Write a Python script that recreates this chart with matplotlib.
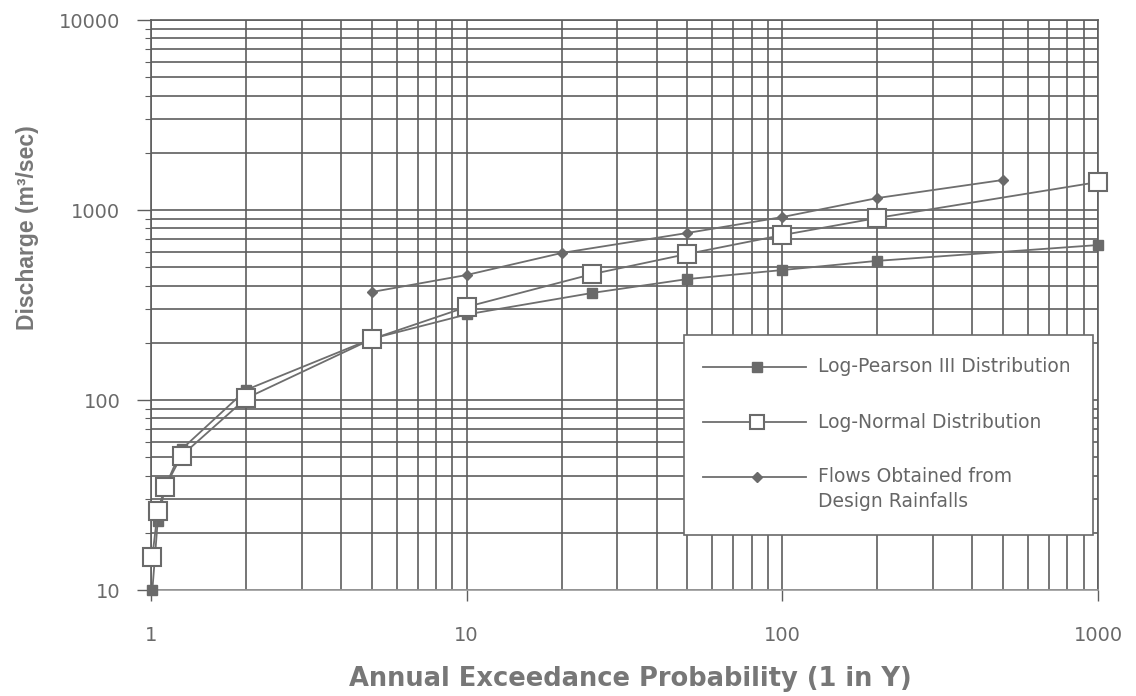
import matplotlib
matplotlib.use("Agg")
import matplotlib.pyplot as plt
from matplotlib.ticker import LogLocator, FixedLocator, NullFormatter, FixedFormatter
from matplotlib.lines import Line2D
from matplotlib.patches import Rectangle

plt.rcParams['font.family'] = ['DejaVu Sans']

# ---- data ----
lp3_x = [1.01, 1.05, 1.11, 1.25, 2, 5, 10, 25, 50, 100, 200, 1000]
lp3_y = [10, 23, 35, 55, 113, 210, 282, 366, 433, 483, 540, 654]

ln_x = [1.01, 1.05, 1.11, 1.25, 2, 5, 10, 25, 50, 100, 200, 1000]
ln_y = [15, 26, 35, 51, 102, 209, 309, 460, 587, 738, 908, 1403]

fl_x = [5, 10, 20, 50, 100, 200, 500]
fl_y = [370, 455, 594, 757, 918, 1156, 1439]

series_labels = ["Log-Pearson III Distribution", "Log-Normal Distribution",
                 "Flows Obtained from\nDesign Rainfalls"]
x_ticks = [1, 10, 100, 1000]
x_ticklabels = ["1", "10", "100", "1000"]
y_ticks = [10, 100, 1000, 10000]
y_ticklabels = ["10", "100", "1000", "10000"]

GRID = "#5e5e5e"
LINE = "#6e6e6e"
TXT = "#6a6a6a"

fig = plt.figure(figsize=(11.36, 6.96), dpi=100)
ax = fig.add_axes([151/1136, 1 - 590/696, (1098-151)/1136, (590-20)/696])
ax.set_xscale("log")
ax.set_yscale("log")
ax.set_xlim(1, 1000)
ax.set_ylim(10, 10000)

styles = [
    dict(marker="s", markersize=7, markerfacecolor="#6a6a6a", markeredgecolor="#6a6a6a"),
    dict(marker="s", markersize=13, markerfacecolor="white", markeredgecolor="#6a6a6a", markeredgewidth=1.5),
    dict(marker="D", markersize=5.5, markerfacecolor="#6a6a6a", markeredgecolor="#6a6a6a"),
]
for (xs, ys), st in zip([(lp3_x, lp3_y), (ln_x, ln_y), (fl_x, fl_y)], styles):
    ax.plot(xs, ys, color=LINE, linewidth=1.3, zorder=3, clip_on=False, **st)

# grid
ax.xaxis.set_major_locator(FixedLocator(x_ticks))
ax.xaxis.set_major_formatter(FixedFormatter(x_ticklabels))
ax.yaxis.set_major_locator(FixedLocator(y_ticks))
ax.yaxis.set_major_formatter(FixedFormatter(y_ticklabels))
ax.xaxis.set_minor_locator(LogLocator(base=10, subs=range(2, 10), numticks=20))
ax.yaxis.set_minor_locator(LogLocator(base=10, subs=range(2, 10), numticks=20))
ax.xaxis.set_minor_formatter(NullFormatter())
ax.yaxis.set_minor_formatter(NullFormatter())
ax.grid(True, which="both", color=GRID, linewidth=1.2, zorder=1)
ax.set_axisbelow(True)

for s in ax.spines.values():
    s.set_color(GRID)
    s.set_linewidth(1.2)
ax.spines["bottom"].set_color("#9a9a9a")

ax.tick_params(axis="y", which="major", length=10, width=1.0, color=GRID,
               labelsize=14, labelcolor=TXT, pad=12)
ax.tick_params(axis="y", which="minor", length=4, width=0.8, color=GRID)
ax.tick_params(axis="x", which="major", length=8, width=1.0, color=GRID,
               labelsize=14, labelcolor=TXT, pad=18)
ax.tick_params(axis="x", which="minor", length=0)

ax.set_xlabel("Annual Exceedance Probability (1 in Y)", fontsize=18.5,
              fontweight="bold", color="#777777")
ax.xaxis.set_label_coords(0.506, -0.133)
ax.set_ylabel("Discharge (m³/sec)", fontsize=16.5, fontweight="bold", color="#777777",
              family=["Liberation Sans", "DejaVu Sans"])
ax.yaxis.set_label_coords(-0.118, 0.635)

# legend (manual, to keep marker aligned with first text line)
def ax_x(px):
    return (px - 151) / 947
def ax_y(py):
    return (590 - py) / 570

leg = Rectangle((ax_x(684), ax_y(535)), ax_x(1093) - ax_x(684), ax_y(335) - ax_y(535),
                transform=ax.transAxes, facecolor="white", edgecolor="#6a6a6a",
                linewidth=1.2, zorder=5)
ax.add_patch(leg)
rows_py = [367, 422, 477]
for py, st, lab in zip(rows_py, styles, series_labels):
    ax.add_line(Line2D([ax_x(703), ax_x(806)], [ax_y(py), ax_y(py)], transform=ax.transAxes,
                       color=LINE, linewidth=1.3, zorder=6))
    st2 = dict(st)
    if st2["markersize"] > 10:
        st2["markersize"] = 10
    ax.add_line(Line2D([ax_x(757)], [ax_y(py)], transform=ax.transAxes, color=LINE,
                       linestyle="none", zorder=7, **st2))
    multi = "\n" in lab
    ax.text(ax_x(818), ax_y(py - 10) if multi else ax_y(py), lab, transform=ax.transAxes,
            fontsize=13.5, color="#666666", va="top" if multi else "center",
            ha="left", zorder=7, linespacing=1.4)

fig.savefig("out.png", dpi=100)
